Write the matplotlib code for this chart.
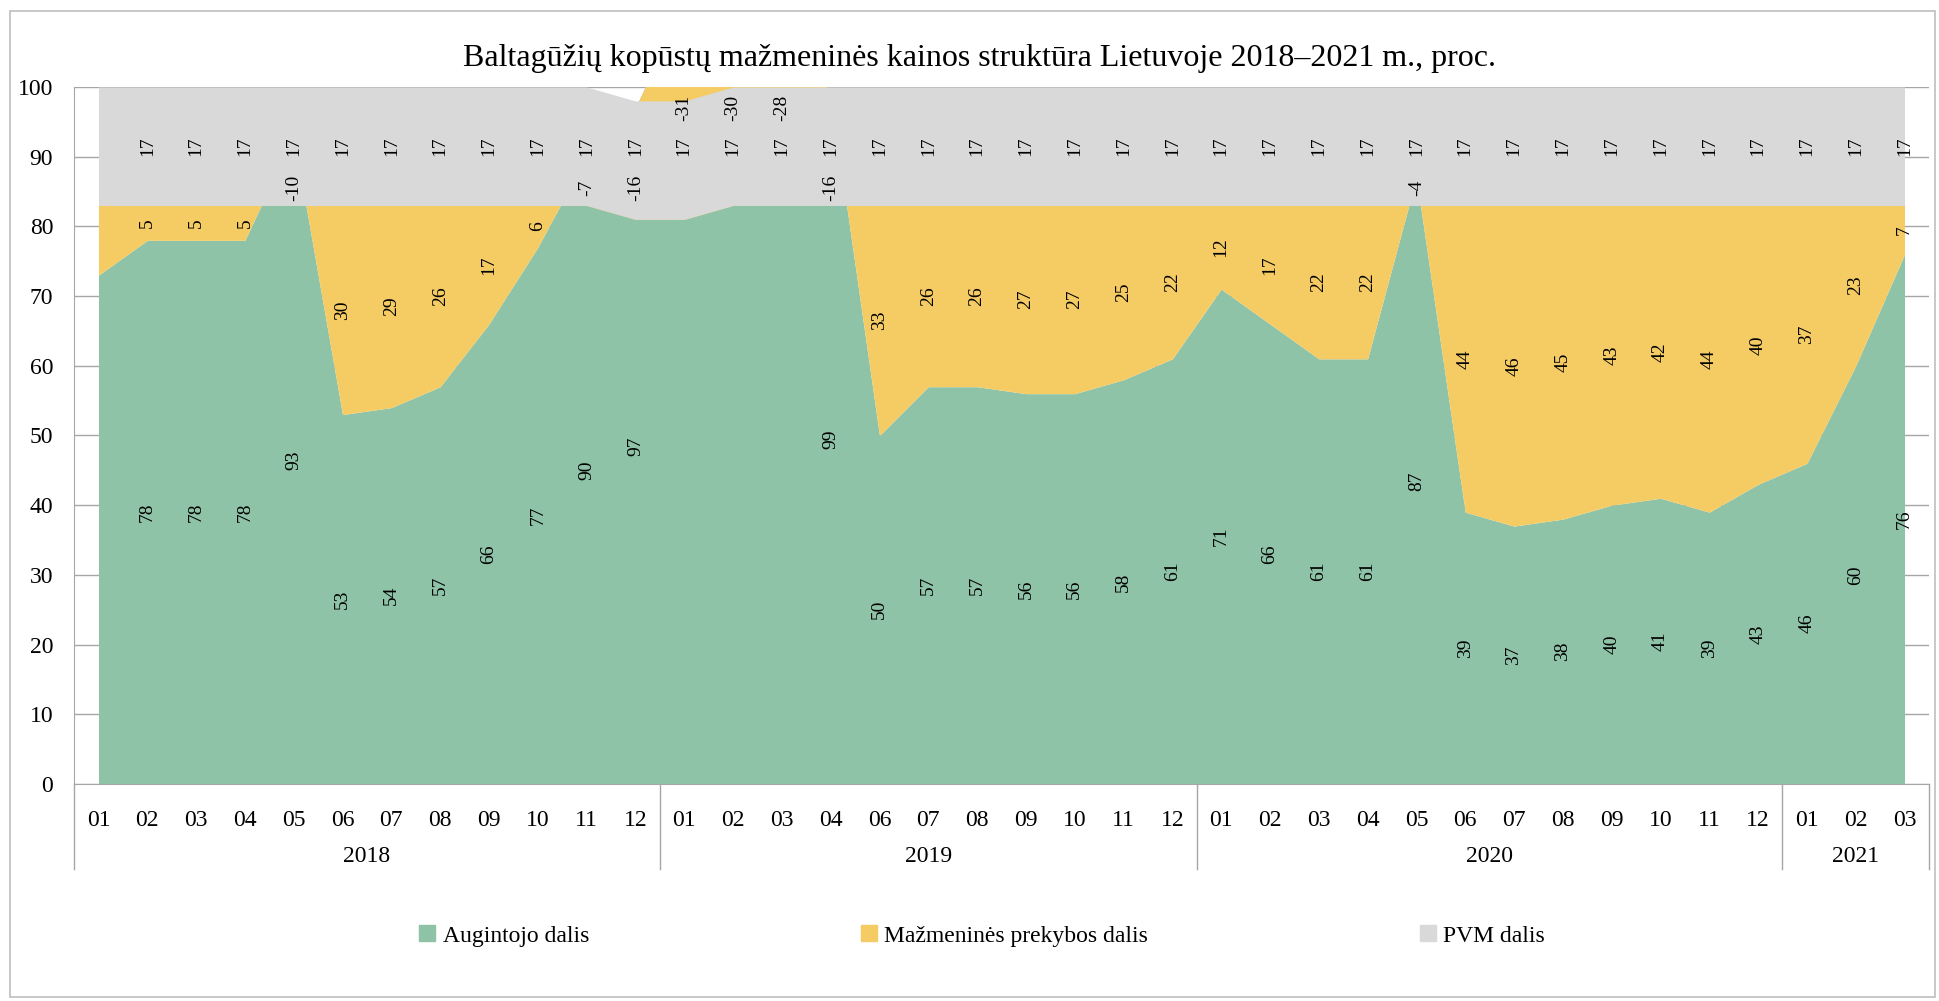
import matplotlib
matplotlib.use("Agg")
import matplotlib.pyplot as plt
from matplotlib.lines import Line2D
from matplotlib.patches import Rectangle
import numpy as np

plt.rcParams['font.family'] = ['Liberation Serif', 'DejaVu Serif']

# month labels grouped by year
years = ['2018', '2019', '2020', '2021']
months = [
    ['01', '02', '03', '04', '05', '06', '07', '08', '09', '10', '11', '12'],
    ['01', '02', '03', '04', '06', '07', '08', '09', '10', '11', '12'],
    ['01', '02', '03', '04', '05', '06', '07', '08', '09', '10', '11', '12'],
    ['01', '02', '03'],
]

# shares, %
augintojo = [73, 78, 78, 78, 93, 53, 54, 57, 66, 77, 90, 97,
             112, 113, 111, 99, 50, 57, 57, 56, 56, 58, 61,
             71, 66, 61, 61, 87, 39, 37, 38, 40, 41, 39, 43,
             46, 60, 76]
prekybos = [10, 5, 5, 5, -10, 30, 29, 26, 17, 6, -7, -16,
            -31, -30, -28, -16, 33, 26, 26, 27, 27, 25, 22,
            12, 17, 22, 22, -4, 44, 46, 45, 43, 42, 44, 40,
            37, 23, 7]
pvm = [17] * 38

series_names = ['Augintojo dalis', 'Mažmeninės prekybos dalis', 'PVM dalis']
colors = ['#8FC3A8', '#F5CB64', '#D9D9D9']

tick_labels = [m for ms in months for m in ms]
x = np.arange(len(tick_labels))

fig = plt.figure(figsize=(19.39, 10.01), dpi=100)
ax = fig.add_axes([0.0382, 0.2168, 0.9566, 0.6963])

# stacked the way the spreadsheet does it: negative parts pull the stack down
bottom = np.zeros(len(x))
stack = []
for vals, col in zip([augintojo, prekybos, pvm], colors):
    top = bottom + np.array(vals)
    ax.fill_between(x, bottom, top, color=col, linewidth=0, zorder=2)
    stack.append((bottom.copy(), top.copy(), vals))
    bottom = top


def label_y(k, i, lo, hi, v):
    # where the labels sit in the original chart
    if k == 2:
        return 100 - v / 2
    if k == 1 and v < 0:
        return 97 if augintojo[i] > 100 else 85.5
    return (lo + hi) / 2


# data labels, first month has none, hidden ones run over the axis top
for k, (lo, hi, vals) in enumerate(stack):
    for i in range(1, len(x)):
        if hi[i] > 100:
            continue
        ax.text(x[i], label_y(k, i, lo[i], hi[i], vals[i]), str(vals[i]),
                rotation=90, ha='center', va='center', fontsize=14, zorder=4)

ax.set_xlim(-0.5, len(x) - 0.5)
ax.set_ylim(0, 100)
ax.set_yticks(np.arange(0, 101, 10))
ax.grid(axis='y', color='#A6A6A6', linewidth=1, zorder=0)
ax.set_axisbelow(True)
ax.tick_params(axis='y', length=0, pad=15, labelsize=17)
ax.set_xticks(x)
ax.set_xticklabels(tick_labels)
ax.tick_params(axis='x', length=0, pad=19, labelsize=17)
for s in ['top', 'right']:
    ax.spines[s].set_visible(False)
for s in ['left', 'bottom']:
    ax.spines[s].set_color('#A6A6A6')

# year grouping under the months
trans = ax.get_xaxis_transform()
edges = np.cumsum([0] + [len(m) for m in months]) - 0.5
for xe in edges:
    ax.plot([xe, xe], [0, -0.122], transform=trans, color='#A6A6A6',
            linewidth=1, clip_on=False)
for yr, a, b in zip(years, edges[:-1], edges[1:]):
    ax.text((a + b) / 2, -0.104, yr, transform=trans, ha='center',
            va='center', fontsize=17)

fig.text(0.505, 0.942, 'Baltagūžių kopūstų mažmeninės kainos struktūra Lietuvoje 2018–2021 m., proc.',
         ha='center', va='center', fontsize=23)

handles = [Line2D([], [], marker='s', linestyle='none', markersize=11,
                  markerfacecolor=c, markeredgecolor=c) for c in colors]
fig.legend(handles, series_names, loc='center', bbox_to_anchor=(0.5065, 0.065),
           ncol=3, frameon=False, fontsize=17, handlelength=0.7,
           handletextpad=0.3, columnspacing=11.5)

fig.add_artist(Rectangle((0.005, 0.004), 0.993, 0.985, transform=fig.transFigure,
                         fill=False, edgecolor='#BFBFBF', linewidth=1.2))

fig.savefig('out.png', dpi=100)
